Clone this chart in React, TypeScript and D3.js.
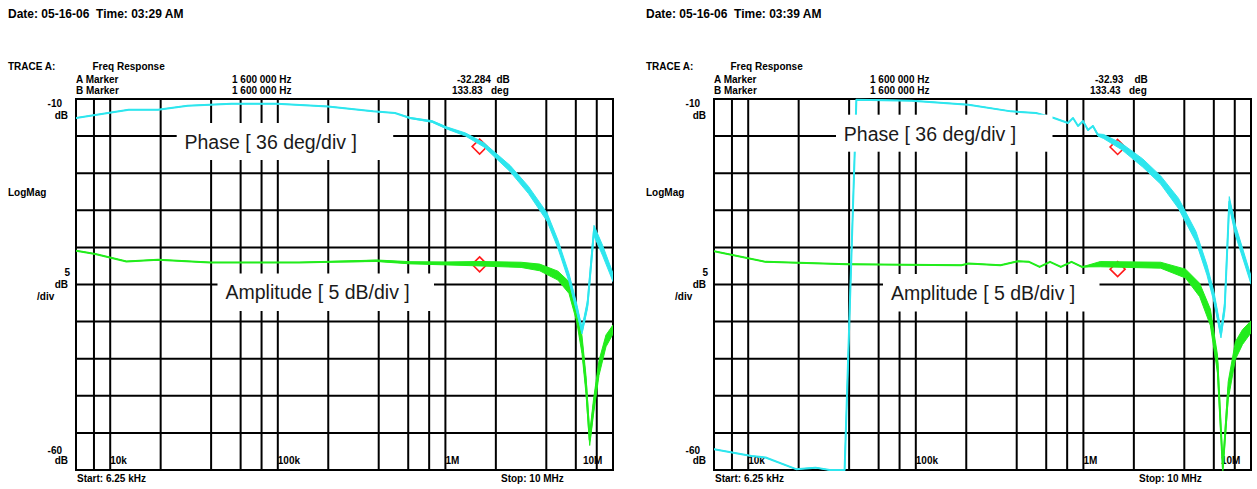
import React, { useEffect, useRef } from 'react';
import * as d3 from 'd3';

// [frequency Hz, value, noise half-width] - value in deg for phase, dB for amplitude
type Pt = [number, number, number];

const dates = ['05-16-06', '05-16-06'];
const times = ['03:29 AM', '03:39 AM'];
const markerFreq = 1600000;
const markerDb = [-32.284, -32.93];
const markerDeg = [133.83, 133.43];
const markerDbText = ['-32.284', '-32.93'];
const markerDegText = ['133.83', '133.43'];

const startFreq = 6250;
const stopFreq = 10000000;
const gridFreqs = [8e3, 1e4, 2e4, 4e4, 6e4, 8e4, 1e5, 2e5, 4e5, 6e5, 8e5, 1e6, 2e6, 4e6, 6e6, 8e6];
const decadeFreqs = [1e4, 1e5, 1e6];
const decadeLabels = ['10k', '100k', '1M'];
const dbTicks = [-10, -15, -20, -25, -30, -35, -40, -45, -50, -55, -60];

const phaseA: Pt[] = [
  [6250, 161.6, 0], [12900, 169.6, 0], [19300, 169.6, 0], [29000, 173.5, 0],
  [53000, 175.4, 0], [98500, 175.4, 0], [199000, 172.8, 0], [370000, 168.0, 0],
  [500000, 166.4, 0], [615000, 161.6, 0.5], [832000, 158.2, 0.8], [1020000, 151.9, 1],
  [1320000, 145.5, 1.5], [1700000, 135.4, 2], [2430000, 112.6, 3], [3130000, 91.7, 3.5],
  [4040000, 65.5, 4], [4690000, 39.3, 4], [5460000, 6.8, 4], [6070000, -22.6, 4],
  [6530000, -45, 3], [7050000, -19, 4], [7700000, 52.4, 5], [8680000, 32.8, 5],
  [10000000, 6.8, 4],
];

const ampA: Pt[] = [
  [6250, -30.44, 0], [8150, -30.89, 0], [12500, -31.89, 0], [19300, -31.66, 0],
  [39400, -32.03, 0], [134000, -32.03, 0], [389000, -31.8, 0.1], [615000, -32.07, 0.15],
  [1020000, -32.16, 0.2], [1610000, -32.2, 0.3], [2830000, -32.35, 0.35], [3650000, -32.7, 0.45],
  [4690000, -33.8, 0.6], [5460000, -35.4, 0.8], [6070000, -39.0, 1], [6530000, -43.1, 1.2],
  [6900000, -48.5, 1.2], [7260000, -55.9, 0.8], [7640000, -51.6, 1], [8250000, -46.25, 1],
  [9080000, -42.6, 0.8], [10000000, -41.06, 0.6],
];

const phaseB: Pt[] = [
  [6250, -159.8, 0], [10450, -166.4, 0], [12700, -167.9, 0], [19300, -179.2, 0],
  [25200, -177.7, 0], [30600, -180, 0], [37600, -180, 0], [44200, 179.3, 0],
  [94300, 178.4, 0], [206000, 174.5, 0], [370000, 168.0, 0], [521000, 166.4, 0],
  [667000, 161.6, 0], [809000, 156.7, 0], [867000, 161.6, 0], [929000, 153.8, 0],
  [994000, 158.7, 0], [1065000, 149.9, 0.5], [1140000, 153.8, 0.5], [1220000, 145.1, 1],
  [1320000, 143.6, 2], [1690000, 133.9, 3], [2260000, 117.9, 4], [2890000, 101.4, 4],
  [3690000, 78.8, 5], [4700000, 46.3, 5], [5460000, 14.1, 5], [6010000, -12.1, 5],
  [6620000, -47.8, 4], [6970000, -21.8, 5], [7420000, 80.3, 5], [8070000, 52.9, 5],
  [10000000, 4.4, 4],
];

const ampB: Pt[] = [
  [6250, -30.51, 0], [12700, -31.95, 0], [39000, -32.26, 0], [187000, -32.4, 0],
  [206000, -32.18, 0], [320000, -32.4, 0], [407000, -31.86, 0], [474000, -31.95, 0],
  [548000, -32.63, 0], [632000, -31.95, 0], [733000, -32.63, 0], [849000, -31.95, 0],
  [981000, -32.63, 0], [1260000, -32.26, 0.35], [2890000, -32.4, 0.4], [4070000, -33.53, 0.6],
  [4940000, -35.74, 0.9], [5720000, -39.4, 1.1], [6310000, -45.7, 1.2], [6790000, -59.7, 0.4],
  [7310000, -49.3, 1.2], [8070000, -43.9, 1.2], [8900000, -42.08, 1], [10000000, -40.7, 0.8],
];

const phaseSeries = [phaseA, phaseB];
const ampSeries = [ampA, ampB];

// layout
const PLOT = { l: 76, r: 613, t: 99, b: 470 };
const PANEL_SHIFT = 638;
const phaseBox = [{ x: 176.7, y: 123, ty: 149.3 }, { x: 198, y: 114.7, ty: 140.7 }];
const ampBox = [{ x: 217.5, y: 273.5, ty: 299.4 }, { x: 245, y: 274, ty: 299.8 }];
const CYAN = '#2ee6ee';
const GREEN = '#22ec1c';
const FONT = '"Liberation Sans", Arial, Helvetica, sans-serif';

const App: React.FC = () => {
  const ref = useRef<SVGSVGElement>(null);

  useEffect(() => {
    const svg = d3.select(ref.current);
    svg.selectAll('*').remove();

    const x = d3.scaleLog().domain([startFreq, stopFreq]).range([PLOT.l, PLOT.r]);
    const yDb = d3.scaleLinear().domain([-60, -10]).range([PLOT.b, PLOT.t]);
    const yDeg = d3.scaleLinear().domain([-180, 180]).range([PLOT.b, PLOT.t]);

    svg.append('defs').append('clipPath').attr('id', 'plotClip')
      .append('rect')
      .attr('x', PLOT.l).attr('y', PLOT.t - 1)
      .attr('width', PLOT.r - PLOT.l).attr('height', PLOT.b - PLOT.t + 2);

    const txt = (g: any, s: string, tx: number, ty: number, size: number, anchor = 'start', bold = true) =>
      g.append('text')
        .attr('x', tx).attr('y', ty)
        .attr('font-family', FONT)
        .attr('font-size', size)
        .attr('font-weight', bold ? 'bold' : 'normal')
        .attr('text-anchor', anchor)
        .style('white-space', 'pre')
        .text(s);

    const drawTrace = (g: any, data: Pt[], y: d3.ScaleLinear<number, number>, color: string) => {
      const band = d3.area<Pt>()
        .x(d => x(d[0]))
        .y0(d => y(d[1] - d[2]))
        .y1(d => y(d[1] + d[2]));
      const line = d3.line<Pt>()
        .x(d => x(d[0]))
        .y(d => y(d[1]));
      g.append('path').attr('d', band(data)).attr('fill', color).attr('stroke', color).attr('stroke-width', 1);
      g.append('path').attr('d', line(data)).attr('fill', 'none').attr('stroke', color)
        .attr('stroke-width', 2).attr('stroke-linejoin', 'round');
    };

    [0, 1].forEach(i => {
      const g = svg.append('g').attr('transform', `translate(${i * PANEL_SHIFT},0)`);

      // header
      txt(g, `Date: ${dates[i]}  Time: ${times[i]}`, 8, 17.5, 12);
      txt(g, 'TRACE A:', 8, 70, 10);
      txt(g, 'Freq Response', 92.5, 70, 10);
      txt(g, 'A Marker', 76, 82.5, 10);
      txt(g, 'B Marker', 76, 94, 10);
      txt(g, '1 600 000 Hz', 232, 82.5, 10);
      txt(g, '1 600 000 Hz', 232, 94, 10);
      txt(g, markerDbText[i], 457, 82.5, 10);
      txt(g, 'dB', 496.5, 82.5, 10);
      txt(g, markerDegText[i], 452, 94, 10);
      txt(g, 'deg', 491, 94, 10);

      // left axis texts
      txt(g, '-10', 62, 106.5, 10, 'end');
      txt(g, 'dB', 68, 118.5, 10, 'end');
      txt(g, 'LogMag', 8, 196, 10);
      txt(g, '5', 70, 276, 10, 'end');
      txt(g, 'dB', 68, 288, 10, 'end');
      txt(g, '/div', 37, 300, 10);
      txt(g, '-60', 62, 454, 10, 'end');
      txt(g, 'dB', 68, 464, 10, 'end');

      // grid
      const grid = g.append('g').attr('stroke', '#000').attr('stroke-width', 2);
      gridFreqs.forEach(f => {
        grid.append('line').attr('x1', x(f)).attr('x2', x(f)).attr('y1', PLOT.t).attr('y2', PLOT.b);
      });
      dbTicks.forEach(v => {
        grid.append('line').attr('x1', PLOT.l).attr('x2', PLOT.r).attr('y1', yDb(v)).attr('y2', yDb(v));
      });
      grid.append('rect').attr('x', PLOT.l).attr('y', PLOT.t)
        .attr('width', PLOT.r - PLOT.l).attr('height', PLOT.b - PLOT.t).attr('fill', 'none');

      // frequency labels
      decadeFreqs.forEach((f, k) => txt(g, decadeLabels[k], x(f), 464, 10));
      txt(g, '10M', 583, 464, 10);
      txt(g, 'Start: 6.25 kHz', 77, 482, 10);
      txt(g, 'Stop: 10 MHz', 501, 482, 10);

      // markers
      const diamond = 'M0,-7.5L7.5,0L0,7.5L-7.5,0Z';
      [yDb(markerDb[i]), yDeg(markerDeg[i])].forEach(my => {
        g.append('path').attr('d', diamond)
          .attr('transform', `translate(${x(markerFreq)},${my})`)
          .attr('fill', 'none').attr('stroke', '#ff1a1a').attr('stroke-width', 1.6);
      });

      // traces
      const tr = g.append('g').attr('clip-path', 'url(#plotClip)');
      drawTrace(tr, ampSeries[i], yDb, GREEN);
      drawTrace(tr, phaseSeries[i], yDeg, CYAN);

      // label boxes
      g.append('rect').attr('x', phaseBox[i].x).attr('y', phaseBox[i].y)
        .attr('width', 216.5).attr('height', 37).attr('fill', '#fff');
      txt(g, 'Phase [ 36 deg/div ]', phaseBox[i].x + 7.8, phaseBox[i].ty, 19.5, 'start', false)
        .attr('fill', '#1a1a1a');
      g.append('rect').attr('x', ampBox[i].x).attr('y', ampBox[i].y)
        .attr('width', 216.5).attr('height', 37.5).attr('fill', '#fff');
      txt(g, 'Amplitude [ 5 dB/div ]', ampBox[i].x + 8, ampBox[i].ty, 19.5, 'start', false)
        .attr('fill', '#1a1a1a');
    });
  }, []);

  return (
    <svg ref={ref} width={1257} height={489}
      style={{ position: 'absolute', left: 0, top: 0, background: '#fff' }} />
  );
};

export default App;
